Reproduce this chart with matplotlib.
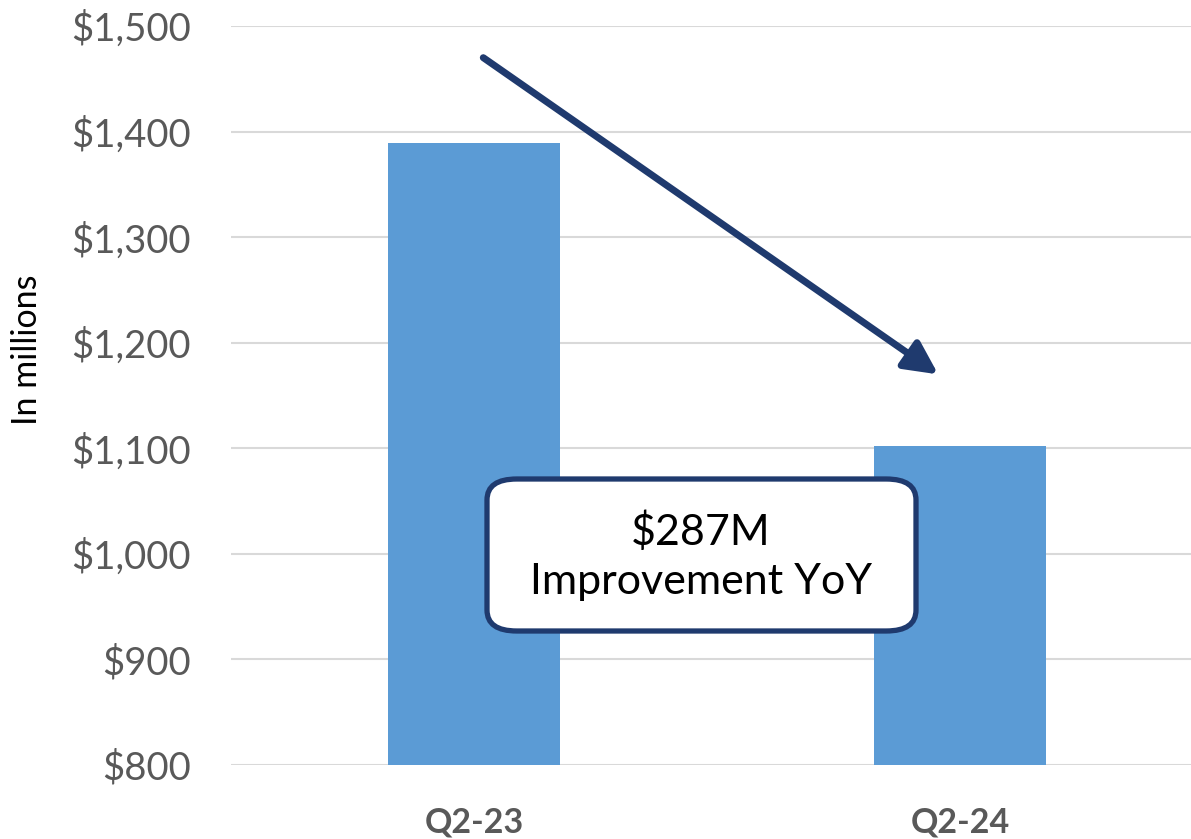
import matplotlib.pyplot as plt
from matplotlib.patches import FancyBboxPatch

# data
categories = ["Q2-23", "Q2-24"]
values = [1389, 1102]
yticks = [800, 900, 1000, 1100, 1200, 1300, 1400, 1500]
note = "$287M\nImprovement YoY"

plt.rcParams['font.family'] = ['Lato', 'DejaVu Sans']

fig = plt.figure(figsize=(11.91, 8.39), dpi=100)
ax = fig.add_axes([231 / 1191, 1 - 765 / 839, 960 / 1191, (765 - 26) / 839])

x = list(range(len(categories)))
ax.bar(x, values, width=0.354, color='#5B9BD5', zorder=3)

ax.set_xlim(-0.5, 1.475)
ax.set_ylim(800, 1500)
ax.set_yticks(yticks)
ax.set_yticklabels(["${:,}".format(v) for v in yticks], fontsize=27.5, color='#595959')
ax.set_xticks(x)
ax.set_xticklabels(categories, fontsize=24.5, fontweight='bold', color='#595959')
ax.tick_params(axis='both', length=0)
ax.tick_params(axis='y', pad=29)
ax.tick_params(axis='x', pad=30)
ax.yaxis.grid(True, color='#D9D9D9', linewidth=1.5, zorder=0)
for s in ax.spines.values():
    s.set_visible(False)
ax.set_ylabel("In millions", fontsize=24.5, color='black')
ax.yaxis.set_label_coords(-0.196, 0.562)

# arrow
navy = '#1F3A6E'
ax.annotate('', xy=(0.955, 1170), xytext=(0.019, 1470),
            arrowprops=dict(arrowstyle='-|>,head_length=2.0,head_width=1.0',
                            color=navy, lw=5, shrinkA=0, shrinkB=0), zorder=5)

# callout box
box = FancyBboxPatch((487 / 1191, 1 - 631 / 839), (916 - 487) / 1191, (631 - 479) / 839,
                     boxstyle='round,pad=0,rounding_size=0.025', transform=fig.transFigure,
                     facecolor='white', edgecolor=navy, linewidth=3.8, zorder=6)
fig.patches.append(box)
fig.text(701 / 1191, 1 - 556 / 839, note, ha='center', va='center', fontsize=31,
         color='black', linespacing=1.34, zorder=7)

fig.savefig('out.png', dpi=100)
